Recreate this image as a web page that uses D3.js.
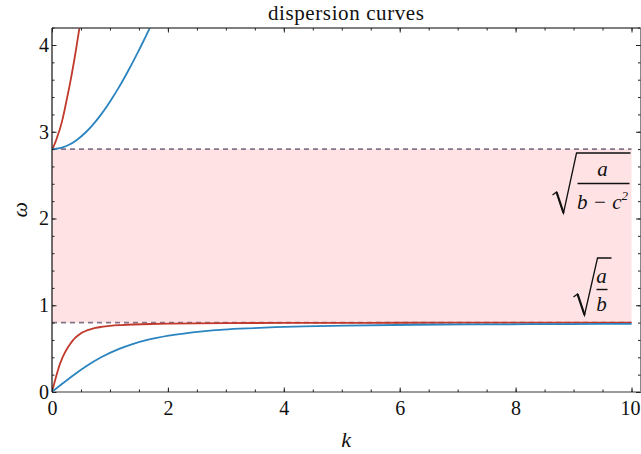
<!DOCTYPE html>
<html>
<head>
<meta charset="utf-8">
<script src="https://cdn.jsdelivr.net/npm/d3@7/dist/d3.min.js"></script>
<style>
  html, body { margin: 0; padding: 0; background: #fff; }
  svg { display: block; }
  text { font-family: "Liberation Serif", "Times New Roman", serif; fill: #111; }
</style>
</head>
<body>
<svg id="chart" width="641" height="454"></svg>
<script>
// Band edges: sqrt(a/b) and sqrt(a/(b - c^2))
const lowerCutoff = 0.8;
const upperCutoff = 2.8;
const kMax = 10;

// Tick values
const kMajorTicks = [0, 2, 4, 6, 8, 10];
const kMinorTicks = d3.range(0, 10.01, 0.5);
const omegaMajorTicks = [0, 1, 2, 3, 4];
const omegaMinorTicks = d3.range(0, 4.21, 0.2);

// Branches as [k, omega]
const redLower = [
  [0, 0], [0.035, 0.09], [0.07, 0.175], [0.1, 0.245], [0.13, 0.31], [0.17, 0.38],
  [0.22, 0.45], [0.27, 0.51], [0.31, 0.55], [0.36, 0.595], [0.4, 0.625],
  [0.45, 0.652], [0.5, 0.677], [0.58, 0.703], [0.66, 0.722], [0.75, 0.738],
  [0.85, 0.75], [1.0, 0.763], [1.2, 0.772], [1.4, 0.778], [1.7, 0.784],
  [2.0, 0.788], [2.5, 0.792], [3, 0.794], [4, 0.796], [5, 0.797], [6, 0.798],
  [8, 0.799], [10, 0.799]
];
const redUpper = [
  [0, 2.8], [0.02, 2.82], [0.04, 2.85], [0.07, 2.9], [0.1, 2.96], [0.14, 3.04],
  [0.18, 3.14], [0.22, 3.26], [0.26, 3.39], [0.3, 3.52], [0.34, 3.66],
  [0.38, 3.81], [0.42, 3.97], [0.46, 4.14], [0.5, 4.3]
];
const blueLower = [
  [0, 0], [0.187, 0.1], [0.382, 0.2], [0.597, 0.3], [0.848, 0.4], [1.169, 0.5],
  [1.377, 0.55], [1.643, 0.6], [2.012, 0.65], [2.597, 0.7], [2.961, 0.72],
  [3.484, 0.737], [3.852, 0.747], [4.345, 0.757], [5.061, 0.766], [6.253, 0.775],
  [7.25, 0.779], [8.92, 0.783], [10, 0.786]
];
const blueUpper = [
  [0, 2.8], [0.131, 2.81], [0.185, 2.82], [0.2935, 2.85], [0.4163, 2.9],
  [0.5922, 3.0], [0.7298, 3.1], [0.8479, 3.2], [0.954, 3.3], [1.0517, 3.4],
  [1.1431, 3.5], [1.2299, 3.6], [1.3128, 3.7], [1.3927, 3.8], [1.47, 3.9],
  [1.545, 4.0], [1.6183, 4.1], [1.69, 4.2], [1.725, 4.25]
];

const svg = d3.select("#chart");
const plotLeft = 52, plotRight = 640.5, plotTop = 28, plotBottom = 392;
const serif = "'Liberation Serif', 'Times New Roman', serif";

const x = d3.scaleLinear().domain([0, 10.155]).range([plotLeft, plotRight]);
const y = d3.scaleLinear().domain([0, 4.196]).range([plotBottom, plotTop]);

const red = "#c0392b";
const blue = "#2a84c0";

svg.append("defs").append("clipPath").attr("id", "plotClip")
  .append("rect").attr("x", plotLeft).attr("y", plotTop)
  .attr("width", plotRight - plotLeft).attr("height", plotBottom - plotTop);

// Band gap shading
svg.append("rect")
  .attr("x", x(0)).attr("y", y(upperCutoff))
  .attr("width", x(kMax) - x(0))
  .attr("height", y(lowerCutoff) - y(upperCutoff))
  .attr("fill", "#ffe3e4");

// Cutoff lines
[lowerCutoff, upperCutoff].forEach(v => {
  svg.append("line")
    .attr("x1", x(0)).attr("x2", x(kMax))
    .attr("y1", y(v)).attr("y2", y(v))
    .attr("stroke", "#85758a").attr("stroke-width", 1.6)
    .attr("stroke-dasharray", "5,4");
});

// Curves
const line = d3.line().x(d => x(d[0])).y(d => y(d[1])).curve(d3.curveMonotoneX);
const curves = svg.append("g").attr("clip-path", "url(#plotClip)");
[[redLower, red], [redUpper, red], [blueLower, blue], [blueUpper, blue]].forEach(([data, color]) => {
  curves.append("path").datum(data)
    .attr("d", line).attr("fill", "none")
    .attr("stroke", color).attr("stroke-width", 1.8);
});

// Frame
const frame = svg.append("g");
frame.append("line").attr("x1", plotLeft).attr("x2", plotRight).attr("y1", plotBottom).attr("y2", plotBottom)
  .attr("stroke", "#7a7a7a").attr("stroke-width", 1.6);
frame.append("line").attr("x1", plotLeft).attr("x2", plotRight).attr("y1", plotTop).attr("y2", plotTop)
  .attr("stroke", "#555").attr("stroke-width", 1.3);
frame.append("line").attr("x1", plotLeft).attr("x2", plotLeft).attr("y1", plotTop).attr("y2", plotBottom)
  .attr("stroke", "#222").attr("stroke-width", 1.3);
frame.append("line").attr("x1", plotRight).attr("x2", plotRight).attr("y1", plotTop).attr("y2", plotBottom)
  .attr("stroke", "#888").attr("stroke-width", 1);

function styleAxis(g) {
  g.attr("font-family", serif).attr("font-size", 20);
  g.select(".domain").remove();
  g.selectAll(".tick line").attr("stroke", "#222").attr("stroke-width", 1);
  g.selectAll(".tick text").style("font-family", serif).style("font-size", "20px").attr("fill", "#111");
}

// Bottom axis
svg.append("g").attr("transform", `translate(0,${plotBottom})`)
  .call(d3.axisBottom(x).tickValues(kMinorTicks).tickSizeInner(-2.5).tickSizeOuter(0).tickFormat(""))
  .call(styleAxis);
const bottomMajor = svg.append("g").attr("transform", `translate(0,${plotBottom})`)
  .call(d3.axisBottom(x).tickValues(kMajorTicks).tickSizeInner(-4.5).tickSizeOuter(0).tickPadding(9).tickFormat(d3.format("d")))
  .call(styleAxis);
// keep the last label inside the canvas
bottomMajor.selectAll(".tick text").filter(d => d === kMax).attr("dx", -1.5);
// Top axis
svg.append("g").attr("transform", `translate(0,${plotTop})`)
  .call(d3.axisTop(x).tickValues(kMinorTicks).tickSizeInner(-2.5).tickSizeOuter(0).tickFormat(""))
  .call(styleAxis);
svg.append("g").attr("transform", `translate(0,${plotTop})`)
  .call(d3.axisTop(x).tickValues(kMajorTicks).tickSizeInner(-4.5).tickSizeOuter(0).tickFormat(""))
  .call(styleAxis);
// Left axis
svg.append("g").attr("transform", `translate(${plotLeft},0)`)
  .call(d3.axisLeft(y).tickValues(omegaMinorTicks).tickSizeInner(-2.5).tickSizeOuter(0).tickFormat(""))
  .call(styleAxis);
svg.append("g").attr("transform", `translate(${plotLeft},0)`)
  .call(d3.axisLeft(y).tickValues(omegaMajorTicks).tickSizeInner(-4.5).tickSizeOuter(0).tickPadding(3).tickFormat(d3.format("d")))
  .call(styleAxis);
// Right axis
svg.append("g").attr("transform", `translate(${plotRight},0)`)
  .call(d3.axisRight(y).tickValues(omegaMinorTicks).tickSizeInner(-2.5).tickSizeOuter(0).tickFormat(""))
  .call(styleAxis);
svg.append("g").attr("transform", `translate(${plotRight},0)`)
  .call(d3.axisRight(y).tickValues(omegaMajorTicks).tickSizeInner(-4.5).tickSizeOuter(0).tickFormat(""))
  .call(styleAxis);

// Title and axis labels
svg.append("text").attr("x", (plotLeft + plotRight) / 2).attr("y", 20)
  .attr("text-anchor", "middle").style("font-size", "21px").attr("letter-spacing", 0.6)
  .text("dispersion curves");
svg.append("text").attr("x", (plotLeft + plotRight) / 2).attr("y", 447)
  .attr("text-anchor", "middle").style("font-size", "22px").attr("font-style", "italic")
  .text("k");
svg.append("text").attr("x", 19).attr("y", y(2.1))
  .attr("text-anchor", "middle").style("font-size", "22px").attr("font-style", "italic")
  .attr("transform", `rotate(-90,19,${y(2.1)})`).attr("dy", "0.35em")
  .text("ω");

// Radical annotations
const ann = svg.append("g");
function radical(x0, yTop, yBottom, xEnd) {
  const p = d3.path();
  p.moveTo(x0, yBottom - 18);
  p.lineTo(x0 + 4, yBottom - 21);
  p.lineTo(x0 + 11, yBottom);
  p.lineTo(x0 + 24, yTop);
  p.lineTo(xEnd, yTop);
  ann.append("path").attr("d", p.toString()).attr("fill", "none")
    .attr("stroke", "#111").attr("stroke-width", 1.3).attr("stroke-linejoin", "miter");
  const q = d3.path();
  q.moveTo(x0 + 4, yBottom - 21);
  q.lineTo(x0 + 11, yBottom);
  ann.append("path").attr("d", q.toString()).attr("fill", "none")
    .attr("stroke", "#111").attr("stroke-width", 2.2);
}

// sqrt(a / (b - c^2)) next to the upper edge
const ux = x(kMax);
radical(ux - 79, 153, 213, ux - 1);
ann.append("line").attr("x1", ux - 54).attr("x2", ux - 2).attr("y1", 183.5).attr("y2", 183.5)
  .attr("stroke", "#111").attr("stroke-width", 1.4);
ann.append("text").attr("x", ux - 29).attr("y", 176).attr("text-anchor", "middle")
  .style("font-size", "21px").attr("font-style", "italic").text("a");
const den = ann.append("text").attr("x", ux - 29).attr("y", 209).attr("text-anchor", "middle")
  .style("font-size", "21px").attr("font-style", "italic");
den.append("tspan").text("b − c");
den.append("tspan").style("font-size", "13px").attr("dy", -9).text("2");

// sqrt(a / b) next to the lower edge
radical(ux - 58, 258, 315, ux - 20);
ann.append("line").attr("x1", ux - 35).attr("x2", ux - 24).attr("y1", 289.5).attr("y2", 289.5)
  .attr("stroke", "#111").attr("stroke-width", 1.4);
ann.append("text").attr("x", ux - 30).attr("y", 283).attr("text-anchor", "middle")
  .style("font-size", "21px").attr("font-style", "italic").text("a");
ann.append("text").attr("x", ux - 30).attr("y", 311).attr("text-anchor", "middle")
  .style("font-size", "21px").attr("font-style", "italic").text("b");
</script>
</body>
</html>
